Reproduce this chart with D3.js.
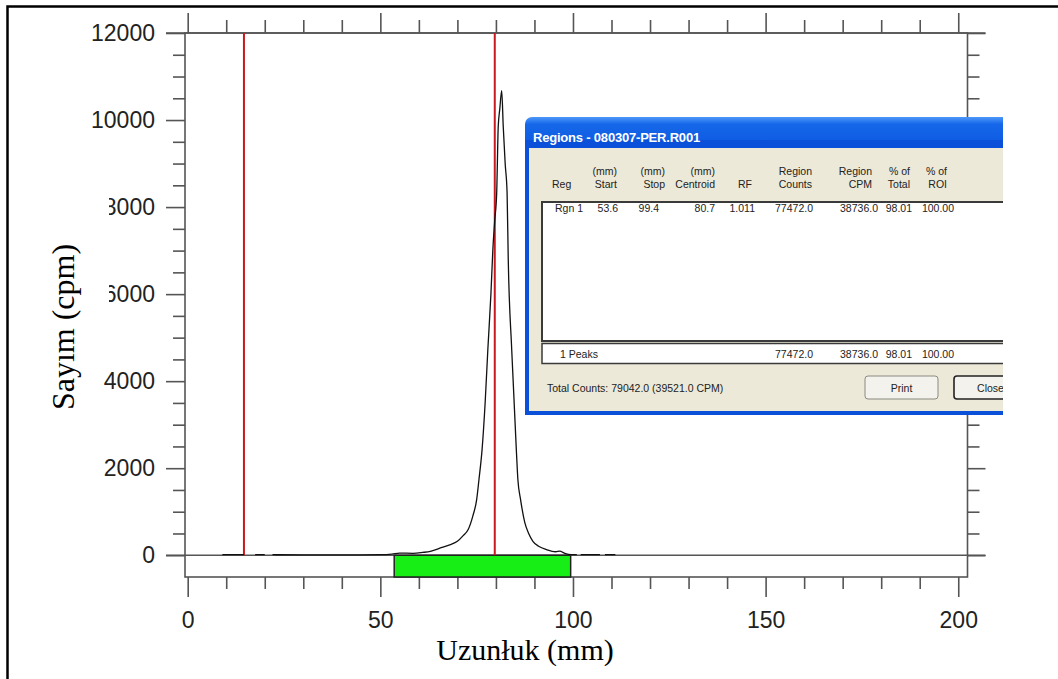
<!DOCTYPE html>
<html>
<head>
<meta charset="utf-8">
<title>Sayım (cpm) - Uzunluk (mm)</title>
<script src="https://cdn.jsdelivr.net/npm/d3@7"></script>
<style>
  html, body { margin: 0; padding: 0; background: #fff; }
  #chart { width: 1058px; height: 679px; }
</style>
</head>
<body>
<div id="chart"></div>
<script>
// Radio-TLC profile: position on strip (mm) vs counts (cpm). null = gap in trace.
var profileMm  = [9, 12, 14.6, 15.5, 17.5, 20, 21, 22, 30, 40, 50, 53, 55, 58.5, 61, 63, 66, 68, 70, 71.5, 72.8, 74, 75, 75.6, 76.4, 77.2, 77.9, 78.7, 79.2, 79.7, 80.2, 80.6, 81.0, 81.5, 81.9, 82.4, 82.9, 83.2, 84.1, 85.3, 85.7, 86.4, 87.5, 88.5, 89.6, 91.2, 93.1, 95.5, 96.6, 97.5, 98.3, 99.5, 101, 101.5, 102, 107, 107.6, 108.3, 111];
var profileCpm = [12, 12, 12, null, 12, 12, null, 12, 10, 10, 12, 25, 50, 45, 65, 90, 180, 240, 320, 450, 590, 900, 1280, 1740, 2420, 3500, 4720, 6000, 7016, 7700, 8326, 9850, 10250, 10675, 9850, 9000, 8326, 6800, 4720, 2420, 1740, 1280, 750, 500, 320, 200, 130, 80, 95, 60, 30, 15, 12, null, 12, 12, null, 12, 12];

var markerMm = [14.6, 79.7];       // origin / front lines
var regionMm = [53.6, 99.4];       // Rgn 1 start / stop

var yTicks = [0, 2000, 4000, 6000, 8000, 10000, 12000];
var xTicks = [0, 50, 100, 150, 200];
var xTitle = 'Uzunłuk (mm)';
var yTitle = 'Sayım (cpm)';

// Regions dialog contents
var dlgTitle = 'Regions - 080307-PER.R001';
var headRow1 = ['', '(mm)', '(mm)', '(mm)', '', 'Region', 'Region', '% of', '% of'];
var headRow2 = ['Reg', 'Start', 'Stop', 'Centroid', 'RF', 'Counts', 'CPM', 'Total', 'ROI'];
var regionRow = ['Rgn 1', '53.6', '99.4', '80.7', '1.011', '77472.0', '38736.0', '98.01', '100.00'];
var peaksRow = ['1 Peaks', '', '', '', '', '77472.0', '38736.0', '98.01', '100.00'];
var totalLine = 'Total Counts: 79042.0  (39521.0 CPM)';
var buttons = ['Print', 'Close'];

(function(d3) {

  var W = 1058, H = 679;
  var left = 185, right = 967.5, top = 33, bottom = 577;
  var axisColor = '#555';
  var sans = '"Liberation Sans", Arial, sans-serif';
  var serif = '"Liberation Serif", "Times New Roman", serif';

  var x = d3.scaleLinear().domain([-0.7, 202.4]).range([left, right]);
  var y = d3.scaleLinear().domain([-500, 12000]).range([bottom, top]);

  var svg = d3.select('#chart').append('svg')
    .attr('width', W)
    .attr('height', H);

  var defs = svg.append('defs');

  svg.append('rect').attr('width', W).attr('height', H).attr('fill', '#fff');

  // Outer frame (only top and left edges are in view).
  svg.append('path')
    .attr('d', 'M7.5,' + H + ' V6.5 H' + W)
    .attr('fill', 'none')
    .attr('stroke', '#000')
    .attr('stroke-width', 2.5);

  var xMinor = d3.range(0, 201, 10).filter(function(v) { return v % 50 !== 0; });
  var yMinor = d3.range(0, 12001, 500).filter(function(v) { return v % 2000 !== 0; });

  var drawAxis = function(axis, tx, ty) {
    var g = svg.append('g')
      .attr('transform', 'translate(' + tx + ',' + ty + ')')
      .call(axis);
    g.select('.domain').remove();
    g.attr('font-family', sans).attr('font-size', 23);
    g.selectAll('line').attr('stroke', axisColor).attr('stroke-width', 1.6);
    g.selectAll('text').attr('fill', '#222');
    return g;
  };

  // Left axis
  drawAxis(d3.axisLeft(y).tickValues(yTicks).tickSize(19).tickPadding(11).tickFormat(d3.format('d')), left, 0);
  drawAxis(d3.axisLeft(y).tickValues(yMinor).tickSize(12).tickFormat(''), left, 0);
  // Right axis
  drawAxis(d3.axisRight(y).tickValues(yTicks).tickSize(18).tickFormat(''), right, 0);
  drawAxis(d3.axisRight(y).tickValues(yMinor).tickSize(12).tickFormat(''), right, 0);
  // Bottom axis
  drawAxis(d3.axisBottom(x).tickValues(xTicks).tickSize(20).tickPadding(15).tickFormat(d3.format('d')), 0, bottom);
  drawAxis(d3.axisBottom(x).tickValues(xMinor).tickSize(12).tickFormat(''), 0, bottom);
  // Top axis
  drawAxis(d3.axisTop(x).tickValues(xTicks).tickSize(20).tickFormat(''), 0, top);
  drawAxis(d3.axisTop(x).tickValues(xMinor).tickSize(13).tickFormat(''), 0, top);

  // Plot frame, plus the 0 and 12000 lines running past both sides.
  svg.append('rect')
    .attr('x', left).attr('y', top)
    .attr('width', right - left).attr('height', bottom - top)
    .attr('fill', 'none')
    .attr('stroke', axisColor)
    .attr('stroke-width', 1.6);

  svg.selectAll('line.hline')
    .data([0, 12000])
    .enter().append('line')
    .attr('class', 'hline')
    .attr('x1', left - 19).attr('x2', right + 18)
    .attr('y1', function(d) { return y(d); })
    .attr('y2', function(d) { return y(d); })
    .attr('stroke', axisColor)
    .attr('stroke-width', 1.6);

  // Region bar below the baseline.
  svg.append('rect')
    .attr('x', x(regionMm[0]))
    .attr('y', y(0))
    .attr('width', x(regionMm[1]) - x(regionMm[0]))
    .attr('height', y(-500) - y(0))
    .attr('fill', '#16ee16')
    .attr('stroke', '#222')
    .attr('stroke-width', 1.5);

  // Red marker lines.
  svg.selectAll('line.marker')
    .data(markerMm)
    .enter().append('line')
    .attr('class', 'marker')
    .attr('x1', function(d) { return x(d); })
    .attr('x2', function(d) { return x(d); })
    .attr('y1', y(12000))
    .attr('y2', y(0))
    .attr('stroke', '#c8191e')
    .attr('stroke-width', 2);

  // Counts trace.
  var profile = profileMm.map(function(mm, i) { return { mm: mm, cpm: profileCpm[i] }; });

  var lineFunction = d3.line()
    .defined(function(d) { return d.cpm !== null; })
    .x(function(d) { return x(d.mm); })
    .y(function(d) { return y(d.cpm); })
    .curve(d3.curveMonotoneX);

  svg.append('path')
    .attr('d', lineFunction(profile))
    .attr('fill', 'none')
    .attr('stroke', '#111')
    .attr('stroke-width', 1.3);

  // White patch behind the y title (it clips the left of some tick labels).
  svg.append('rect')
    .attr('x', 40).attr('y', 190)
    .attr('width', 69).attr('height', 182)
    .attr('fill', '#fff');

  svg.append('text')
    .attr('transform', 'translate(74,327) rotate(-90)')
    .attr('text-anchor', 'middle')
    .attr('font-family', serif)
    .attr('font-size', 32)
    .attr('fill', '#000')
    .text(yTitle);

  svg.append('text')
    .attr('x', 525).attr('y', 660)
    .attr('text-anchor', 'middle')
    .attr('font-family', serif)
    .attr('font-size', 30)
    .attr('fill', '#000')
    .text(xTitle);

  // Regions dialog (cut off at the right).
  defs.append('clipPath').attr('id', 'dlgClip')
    .append('rect').attr('x', 520).attr('y', 110).attr('width', 483).attr('height', 310);

  var grad = defs.append('linearGradient').attr('id', 'titleGrad')
    .attr('x1', 0).attr('y1', 0).attr('x2', 0).attr('y2', 1);
  grad.append('stop').attr('offset', '0%').attr('stop-color', '#4d98f8');
  grad.append('stop').attr('offset', '18%').attr('stop-color', '#1667ea');
  grad.append('stop').attr('offset', '80%').attr('stop-color', '#0a58de');
  grad.append('stop').attr('offset', '100%').attr('stop-color', '#0847c6');

  var dlg = svg.append('g').attr('clip-path', 'url(#dlgClip)');

  dlg.append('rect')
    .attr('x', 525).attr('y', 117).attr('width', 520).attr('height', 40)
    .attr('rx', 7).attr('fill', 'url(#titleGrad)');
  dlg.append('rect')
    .attr('x', 525).attr('y', 140).attr('width', 520).attr('height', 275)
    .attr('fill', '#0a50d8');
  dlg.append('rect')
    .attr('x', 529).attr('y', 148).attr('width', 520).attr('height', 263)
    .attr('fill', '#ece9d8');

  dlg.append('text')
    .attr('x', 533).attr('y', 141.5)
    .attr('font-family', sans)
    .attr('font-weight', 'bold')
    .attr('font-size', 13)
    .attr('letter-spacing', -0.2)
    .attr('fill', '#fff')
    .text(dlgTitle);

  // list box and totals box
  dlg.append('rect')
    .attr('x', 542).attr('y', 202).attr('width', 500).attr('height', 139)
    .attr('fill', '#fff').attr('stroke', '#3a3a3a').attr('stroke-width', 2);
  dlg.append('rect')
    .attr('x', 542).attr('y', 343.5).attr('width', 500).attr('height', 20)
    .attr('fill', '#fff').attr('stroke', '#3a3a3a').attr('stroke-width', 1.5);

  var headRight = [552, 617, 665, 715, 752, 812, 872, 910, 947];
  var colRight = [555, 618, 659, 715, 755, 813, 878, 912, 954];

  var tableText = function(vals, xs, yPos, firstX) {
    vals.forEach(function(v, i) {
      if (!v) return;
      dlg.append('text')
        .attr('x', i === 0 ? firstX : xs[i])
        .attr('y', yPos)
        .attr('text-anchor', i === 0 ? 'start' : 'end')
        .attr('font-family', sans)
        .attr('font-size', 10.5)
        .attr('fill', '#222')
        .text(v);
    });
  };

  tableText(headRow1, headRight, 175, 552);
  tableText(headRow2, headRight, 188, 552);
  tableText(regionRow, colRight, 212, 555);
  tableText(peaksRow, colRight, 358, 560);

  dlg.append('text')
    .attr('x', 547).attr('y', 391.5)
    .attr('font-family', sans)
    .attr('font-size', 10.5)
    .attr('fill', '#222')
    .text(totalLine);

  var btnX = [865, 954];
  buttons.forEach(function(label, i) {
    dlg.append('rect')
      .attr('x', btnX[i]).attr('y', 376).attr('width', 73).attr('height', 23)
      .attr('rx', 3)
      .attr('fill', '#f3f2ec')
      .attr('stroke', i === 1 ? '#222' : '#8a8a80')
      .attr('stroke-width', i === 1 ? 1.6 : 1);
    dlg.append('text')
      .attr('x', btnX[i] + 36.5).attr('y', 391.5)
      .attr('text-anchor', 'middle')
      .attr('font-family', sans)
      .attr('font-size', 10.5)
      .attr('fill', '#222')
      .text(label);
  });

})(d3);
</script>
</body>
</html>
